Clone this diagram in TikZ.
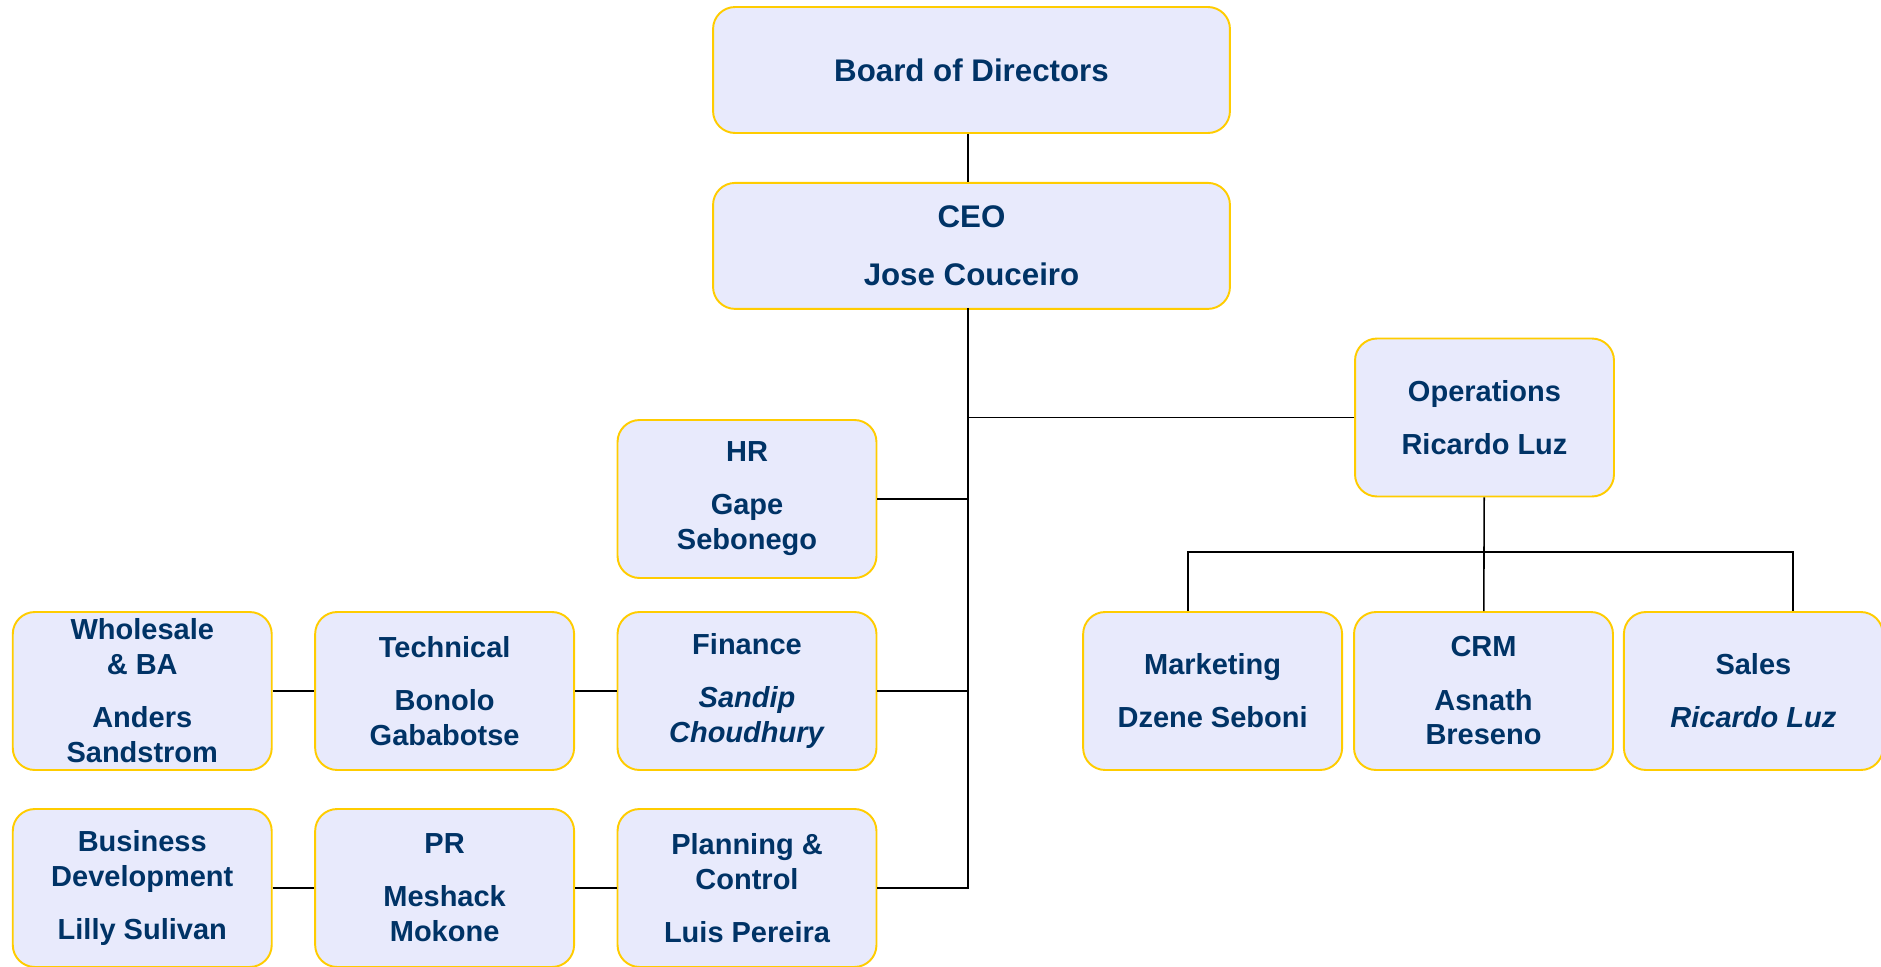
\documentclass[tikz,border=0pt]{standalone}
\usepackage{fontspec}
\setmainfont{Liberation Sans}
\usepackage{tikz}
\usetikzlibrary{positioning}

\definecolor{boxfill}{RGB}{232,234,252}
\definecolor{boxline}{RGB}{255,204,0}
\definecolor{navy}{RGB}{0,51,102}

\tikzset{
	deptbox/.style={draw=boxline, fill=boxfill, line width=1.1pt, rounded corners=0.44cm,
		minimum width=5.18cm, minimum height=3.16cm, inner sep=0pt, align=center,
		text=navy, font=\fontsize{16.5}{19.9}\selectfont\bfseries},
	headbox/.style={deptbox, minimum width=10.34cm, minimum height=2.52cm,
		font=\fontsize{17.8}{21.4}\selectfont\bfseries},
	link/.style={line width=0.9pt}
}

\begin{document}
\begin{tikzpicture}[x=0.02cm, y=-0.02cm]
\useasboundingbox (0,0) rectangle (1881,967);

	\node[headbox] (board) at (971.5,70) {Board of Directors};
	\node[headbox, below=0.96cm of board] (ceo) {CEO\\[11.4pt]Jose Couceiro};

	% staff units hanging off the CEO line
	\node[deptbox] (hr) at (747,499) {HR\\[10.3pt]Gape\\Sebonego};
	\node[deptbox] (fin) at (747,691) {Finance\\[10.3pt]\textit{Sandip}\\\textit{Choudhury}};
	\node[deptbox, left=0.83cm of fin] (tech) {Technical\\[10.3pt]Bonolo\\Gababotse};
	\node[deptbox, left=0.83cm of tech] (whole) {Wholesale\\\& BA\\[10.3pt]Anders\\Sandstrom};

	\node[deptbox] (plan) at (747,888) {Planning \&\\Control\\[10.3pt]Luis Pereira};
	\node[deptbox, left=0.83cm of plan] (pr) {PR\\[10.3pt]Meshack\\Mokone};
	\node[deptbox, left=0.83cm of pr] (bizdev) {Business\\Development\\[10.3pt]Lilly Sulivan};

	% operations and its three units
	\node[deptbox] (ops) at (1484.5,417.5) {Operations\\[10.3pt]Ricardo Luz};
	\node[deptbox] (crm) at (1483.5,691) {CRM\\[10.3pt]Asnath\\Breseno};
	\node[deptbox, left=0.2cm of crm] (mkt) {Marketing\\[10.3pt]Dzene Seboni};
	\node[deptbox, right=0.18cm of crm] (sales) {Sales\\[10.3pt]\textit{Ricardo Luz}};

	\coordinate (trunk) at (968,308);
	\draw[link] (board.south -| trunk) -- (ceo.north -| trunk);
	\draw[link] (trunk) -- (trunk |- plan.east) -- (plan.east);
	\draw[link] (hr.east) -- (hr.east -| trunk);
	\draw[link] (fin.east) -- (fin.east -| trunk);
	\draw[link] (ops.west) -- (ops.west -| trunk);

	\draw[link] (whole) -- (tech);
	\draw[link] (tech) -- (fin);
	\draw[link] (bizdev) -- (pr);
	\draw[link] (pr) -- (plan);

	\coordinate (mktjoin) at (1188,552);
	\coordinate (salesjoin) at (1793,552);
	\draw[link] (ops) -- (crm);
	\draw[link] (mktjoin |- mkt.north) -- (mktjoin) -- (salesjoin) -- (salesjoin |- sales.north);

\end{tikzpicture}
\end{document}
